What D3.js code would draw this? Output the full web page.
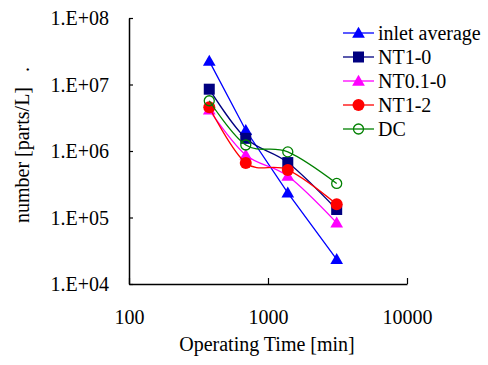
<!DOCTYPE html>
<html>
<head>
<meta charset="utf-8">
<script src="https://cdn.jsdelivr.net/npm/d3@7"></script>
<style>
body { margin: 0; background: #fff; }
</style>
</head>
<body>
<svg id="chart" width="488" height="365"></svg>
<script>
// operating time [min] at each sampling point
const times = [378, 692, 1388, 3120]

const inletAverage = [2.25e7, 2.05e6, 2.35e5, 2.35e4]
const nt10 = [8.5e6, 1.55e6, 6.7e5, 1.32e5]
const nt010 = [4.15e6, 8.7e5, 4.2e5, 8.3e4]
const nt12 = [4.55e6, 6.6e5, 5.2e5, 1.58e5]
const dc = [5.7e6, 1.23e6, 9.7e5, 3.25e5]

const seriesNames = ["inlet average", "NT1-0", "NT0.1-0", "NT1-2", "DC"]
const xTicks = [100, 1000, 10000]
const yTicks = [1e4, 1e5, 1e6, 1e7, 1e8]

const series = [
	{ name: seriesNames[0], values: inletAverage, color: "#0000ff", marker: "triangle", smooth: false },
	{ name: seriesNames[1], values: nt10, color: "#000080", marker: "square", smooth: true },
	{ name: seriesNames[2], values: nt010, color: "#ff00ff", marker: "triangle", smooth: true },
	{ name: seriesNames[3], values: nt12, color: "#ff0000", marker: "circle", smooth: true },
	{ name: seriesNames[4], values: dc, color: "#008000", marker: "open", smooth: true },
]

const serif = "'Liberation Serif', 'Times New Roman', serif"
const margin = {top: 18, right: 81, bottom: 81, left: 129}
const width = 488, height = 365
const plotWidth = width - margin.left - margin.right
const plotHeight = height - margin.top - margin.bottom

const svg = d3.select("#chart")
const plot = svg.append("g").attr("transform", "translate(" + margin.left + "," + margin.top + ")")

const x = d3.scaleLog().domain([100, 10000]).range([0, plotWidth])
const y = d3.scaleLog().domain([1e4, 1e8]).range([plotHeight, 0])

// axes
const xAxis = plot.append("g")
	.attr("transform", "translate(0," + plotHeight + ")")
	.call(d3.axisBottom(x).tickValues(xTicks).tickSizeInner(-6).tickSizeOuter(0).tickFormat(d3.format("d")))
xAxis.select(".domain").attr("stroke", "#000").attr("stroke-width", 1.5)
xAxis.selectAll(".tick line").attr("stroke-width", 1.2)
xAxis.selectAll(".tick text")
	.attr("y", 40).attr("dy", 0)
	.attr("font-size", 20).attr("fill", "#000")

const yAxis = plot.append("g")
	.call(d3.axisLeft(y).tickValues(yTicks).tickSizeInner(-4).tickSizeOuter(0)
		.tickFormat(d => "1.E+" + String(Math.round(Math.log10(d))).padStart(2, "0")))
yAxis.select(".domain").attr("stroke", "#000").attr("stroke-width", 1.5)
yAxis.selectAll(".tick line").attr("stroke-width", 1.2)
yAxis.selectAll(".tick text")
	.attr("x", -20).attr("dy", "0.34em")
	.attr("font-size", 20).attr("fill", "#000")

// titles
svg.append("text")
	.attr("x", 267).attr("y", 351)
	.attr("text-anchor", "middle").attr("font-size", 20)
	.text("Operating Time [min]")

svg.append("text")
	.attr("transform", "translate(29,145) rotate(-90)")
	.attr("text-anchor", "middle").attr("font-size", 20)
	.attr("xml:space", "preserve")
	.text("number [parts/L]   .")

const triangle = d3.symbol().type(d3.symbolTriangle).size(70)

function drawMarker(g, m, color) {
	if (m === "triangle") {
		g.append("path").attr("d", triangle()).attr("transform", "translate(0,1)").attr("fill", color)
	} else if (m === "square") {
		g.append("rect").attr("x", -5.5).attr("y", -5.5).attr("width", 11).attr("height", 11).attr("fill", color)
	} else if (m === "circle") {
		g.append("circle").attr("r", 6).attr("fill", color)
	} else {
		g.append("circle").attr("r", 5).attr("fill", "none").attr("stroke", color).attr("stroke-width", 1.3)
	}
}

series.forEach(s => {
	const pts = times.map((t, i) => [x(t), y(s.values[i])])
	const line = d3.line().curve(s.smooth ? d3.curveCatmullRom.alpha(0) : d3.curveLinear)
	plot.append("path")
		.attr("d", line(pts))
		.attr("fill", "none")
		.attr("stroke", s.color)
		.attr("stroke-width", 1.3)
	pts.forEach(p => {
		const g = plot.append("g").attr("transform", "translate(" + p[0] + "," + p[1] + ")")
		drawMarker(g, s.marker, s.color)
	})
})

// legend
const legend = svg.append("g").attr("transform", "translate(343,33)")
series.forEach((s, i) => {
	const row = legend.append("g").attr("transform", "translate(0," + i * 24 + ")")
	row.append("line").attr("x1", 0).attr("x2", 31).attr("stroke", s.color).attr("stroke-width", 1.3)
	const g = row.append("g").attr("transform", "translate(15.5,0)")
	drawMarker(g, s.marker, s.color)
	row.append("text").attr("x", 35).attr("y", 7).attr("font-size", 20).text(s.name)
})

svg.selectAll("text").style("font-family", serif).style("fill", "#000")
</script>
</body>
</html>
